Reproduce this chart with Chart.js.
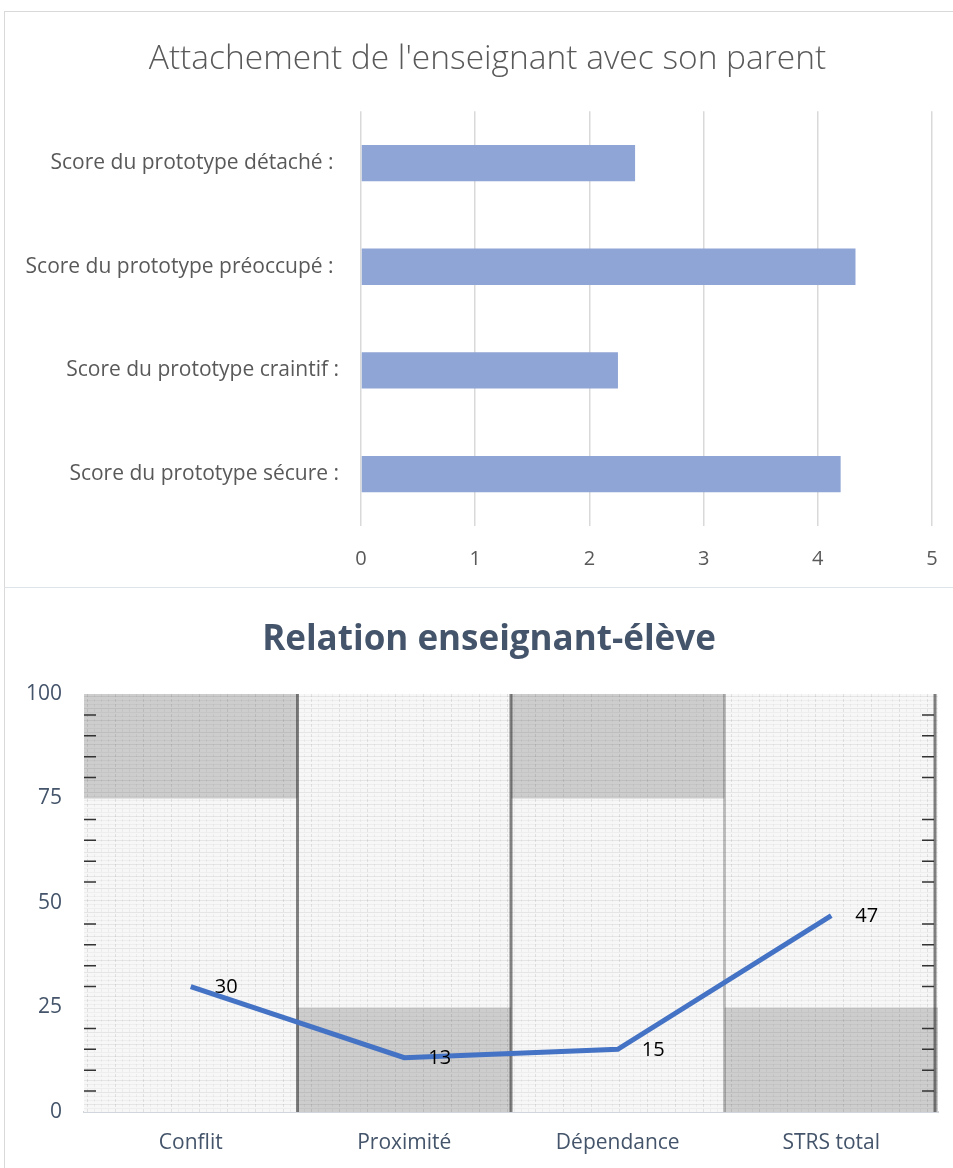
<!DOCTYPE html>
<html lang="fr">
  <head>
    <meta charset="UTF-8" />
    <title>Attachement et relation enseignant-élève</title>
    <script src="https://cdn.jsdelivr.net/npm/chart.js"></script>
    <style>
      body {
        margin: 0;
        background: #fff;
        font-family: "Open Sans", sans-serif;
      }
      .box {
        position: absolute;
        background: #fff;
      }
      #box1 {
        left: 4px;
        top: 11px;
        width: 960px;
        height: 575px;
        border: 1.5px solid #d9d9d9;
      }
      #box2 {
        left: 4px;
        top: 587px;
        width: 960px;
        height: 600px;
        border-left: 1.5px solid #d9d9d9;
        border-top: 1.5px solid #dfe4ea;
      }
      canvas {
        position: absolute;
        left: 0;
        top: 0;
      }
    </style>
  </head>
  <body>
    <div class="box" id="box1">
      <canvas id="barChart" width="948" height="574"></canvas>
    </div>
    <div class="box" id="box2">
      <canvas id="lineChart" width="948" height="579"></canvas>
    </div>

    <script>
      // --- top chart data
      var prototypes = [
        "Score du prototype détaché : ",
        "Score du prototype préoccupé : ",
        "Score du prototype craintif :",
        "Score du prototype sécure :",
      ];
      var prototypeScores = [2.4, 4.33, 2.25, 4.2];
      var scoreTicks = [0, 1, 2, 3, 4, 5];

      // --- bottom chart data
      var dimensions = ["Conflit", "Proximité", "Dépendance", "STRS total"];
      var strsValues = [30, 13, 15, 47];
      var strsTicks = [0, 25, 50, 75, 100];

      // the original titles sit a bit right of the canvas centre
      function shiftTitle(px) {
        return {
          id: "shiftTitle",
          afterLayout: function (chart) {
            if (chart.titleBlock) chart.titleBlock.left += px;
          },
        };
      }

      // bar chart
      new Chart(document.getElementById("barChart").getContext("2d"), {
        type: "bar",
        data: {
          labels: prototypes,
          datasets: [
            {
              data: prototypeScores,
              backgroundColor: "#8fa5d5",
              borderWidth: 0,
              categoryPercentage: 1,
              barPercentage: 0.35,
            },
          ],
        },
        options: {
          indexAxis: "y",
          responsive: false,
          animation: false,
          layout: { padding: { left: 0, right: 21, top: 0, bottom: 0 } },
          plugins: {
            legend: { display: false },
            tooltip: { enabled: false },
            title: {
              display: true,
              text: "Attachement de l'enseignant avec son parent",
              color: "#595959",
              font: { family: "Open Sans", size: 33.5, weight: "300" },
              padding: { top: 27, bottom: 32 },
            },
          },
          scales: {
            x: {
              min: scoreTicks[0],
              max: scoreTicks[scoreTicks.length - 1],
              ticks: {
                stepSize: 1,
                color: "#595959",
                font: { family: "Open Sans", size: 20 },
                padding: 21,
              },
              grid: { color: "#d9d9d9", lineWidth: 1.5, drawTicks: false },
              border: { display: false },
              afterFit: function (s) {
                s.height = 60;
                s.paddingLeft = 0;
                s.paddingRight = 0;
              },
            },
            y: {
              ticks: {
                color: "#595959",
                font: { family: "Open Sans", size: 21 },
                padding: 22,
              },
              grid: { display: false, drawTicks: false },
              border: { display: false },
              afterFit: function (s) {
                s.width = 356;
              },
            },
          },
        },
        plugins: [shiftTitle(38)],
      });

      // scanned graph-paper background behind the line chart
      var paperPlugin = {
        id: "paper",
        beforeDatasetsDraw: function (chart) {
          var ctx = chart.ctx;
          var a = chart.chartArea;
          var y = chart.scales.y;
          var w = a.right - a.left;
          var cw = w / dimensions.length;
          ctx.save();
          ctx.fillStyle = "#f7f7f7";
          ctx.fillRect(a.left, a.top, w, a.bottom - a.top);

          // dark squares, alternating like a checkerboard
          ctx.fillStyle = "#cdcdcd";
          [0, 2].forEach(function (i) {
            ctx.fillRect(a.left + i * cw, y.getPixelForValue(100), cw, y.getPixelForValue(75) - y.getPixelForValue(100));
          });
          [1, 3].forEach(function (i) {
            ctx.fillRect(a.left + i * cw, y.getPixelForValue(25), cw, y.getPixelForValue(0) - y.getPixelForValue(25));
          });

          // fine paper rulings
          ctx.lineWidth = 1;
          for (var yy = a.top + 2, k = 0; yy < a.bottom; yy += 4, k++) {
            ctx.strokeStyle = k % 3 === 0 ? "rgba(0,0,0,0.07)" : "rgba(0,0,0,0.035)";
            ctx.beginPath();
            ctx.moveTo(a.left, yy + 0.5);
            ctx.lineTo(a.right, yy + 0.5);
            ctx.stroke();
          }
          ctx.setLineDash([3, 2]);
          for (var xx = a.left + 3, j = 0; xx < a.right; xx += 7, j++) {
            ctx.strokeStyle = j % 4 === 0 ? "rgba(0,0,0,0.09)" : "rgba(0,0,0,0.045)";
            ctx.beginPath();
            ctx.moveTo(xx + 0.5, a.top);
            ctx.lineTo(xx + 0.5, a.bottom);
            ctx.stroke();
          }
          ctx.setLineDash([]);

          // column separators
          ctx.lineWidth = 3;
          [1, 2, 3, 4].forEach(function (i) {
            ctx.strokeStyle = i === 3 ? "rgba(60,60,60,0.3)" : "rgba(50,50,50,0.6)";
            var px = a.left + i * cw - (i === 4 ? 3 : 0);
            ctx.beginPath();
            ctx.moveTo(px, a.top);
            ctx.lineTo(px, a.bottom);
            ctx.stroke();
          });

          // minor dashes every 5 units on both edges
          ctx.strokeStyle = "#333";
          ctx.lineWidth = 1.5;
          for (var v = 5; v < 100; v += 5) {
            if (v % 25 === 0) continue;
            var py = y.getPixelForValue(v);
            ctx.beginPath();
            ctx.moveTo(a.left, py);
            ctx.lineTo(a.left + 12, py);
            ctx.moveTo(a.right - 16, py);
            ctx.lineTo(a.right - 4, py);
            ctx.stroke();
          }
          ctx.restore();
        },
      };

      // value labels to the right of each point
      var valueLabels = {
        id: "valueLabels",
        afterDatasetsDraw: function (chart) {
          var ctx = chart.ctx;
          var meta = chart.getDatasetMeta(0);
          ctx.save();
          ctx.fillStyle = "#000";
          ctx.font = "20px 'Open Sans'";
          ctx.textAlign = "left";
          ctx.textBaseline = "middle";
          meta.data.forEach(function (pt, i) {
            ctx.fillText(String(strsValues[i]), pt.x + 24, pt.y + 1);
          });
          ctx.restore();
        },
      };

      // line chart
      new Chart(document.getElementById("lineChart").getContext("2d"), {
        type: "line",
        data: {
          labels: dimensions,
          datasets: [
            {
              data: strsValues,
              borderColor: "#4472c4",
              borderWidth: 5,
              pointRadius: 0,
              tension: 0,
              fill: false,
            },
          ],
        },
        options: {
          responsive: false,
          animation: false,
          layout: { padding: { left: 0, right: 15, top: 0, bottom: 0 } },
          plugins: {
            legend: { display: false },
            tooltip: { enabled: false },
            title: {
              display: true,
              text: "Relation enseignant-élève",
              color: "#44546a",
              font: { family: "Open Sans", size: 35, weight: "bold" },
              padding: { top: 31, bottom: 33 },
            },
          },
          scales: {
            x: {
              offset: true,
              ticks: {
                color: "#44546a",
                font: { family: "Open Sans", size: 21 },
                padding: 18,
              },
              grid: { display: false, drawTicks: false },
              border: { color: "#d0d6dc", width: 2 },
              afterFit: function (s) {
                s.height = 55;
              },
            },
            y: {
              min: strsTicks[0],
              max: strsTicks[strsTicks.length - 1],
              ticks: {
                stepSize: 25,
                color: "#44546a",
                font: { family: "Open Sans", size: 21 },
                padding: 22,
              },
              grid: {
                drawTicks: false,
                lineWidth: 1.5,
                color: function (c) {
                  var v = c.tick.value;
                  return v === 0 || v === 100 ? "rgba(0,0,0,0)" : "#8c8c8c";
                },
              },
              border: { display: false },
              afterFit: function (s) {
                s.width = 79;
              },
            },
          },
        },
        plugins: [paperPlugin, valueLabels, shiftTitle(35)],
      });
    </script>
  </body>
</html>
